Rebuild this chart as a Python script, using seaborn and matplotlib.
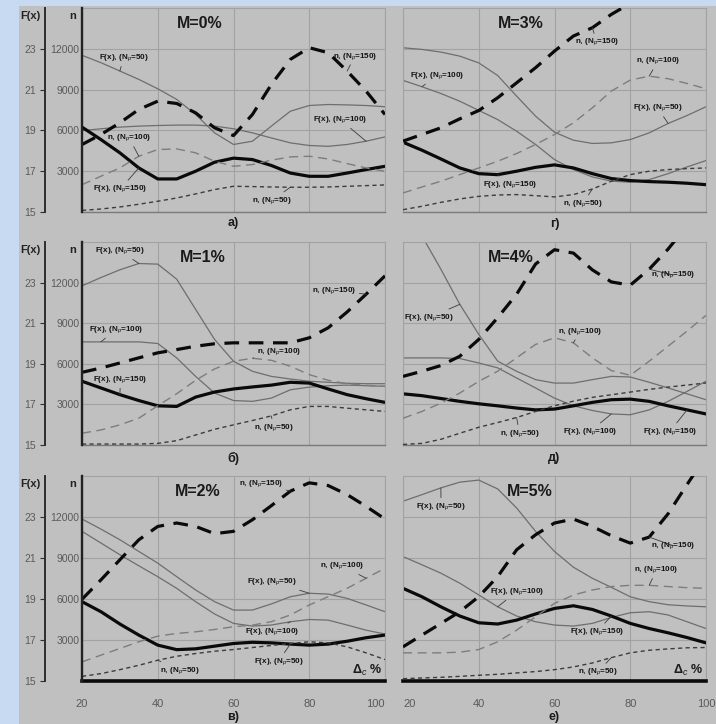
import matplotlib
matplotlib.use("Agg")
import matplotlib.pyplot as plt
from matplotlib.patches import Rectangle
import seaborn as sns

sns.set_theme(style="white")
plt.rcParams["font.family"] = ["Liberation Sans", "DejaVu Sans"]
plt.rcParams["mathtext.fontset"] = "custom"
plt.rcParams["mathtext.rm"] = "Liberation Sans"
plt.rcParams["mathtext.it"] = "Liberation Sans:italic"
plt.rcParams["mathtext.bf"] = "Liberation Sans:bold"

# x axis: Delta_c, %
X = [20, 25, 30, 35, 40, 45, 50, 55, 60, 65, 70, 75, 80, 85, 90, 95, 100]

# M = 0 %
F50_M0 = [22.68, 22.32, 21.91, 21.50, 21.04, 20.52, 19.78, 18.88, 18.31, 18.47, 19.21, 19.94, 20.22, 20.27, 20.25, 20.22, 20.16]
F100_M0 = [18.99, 19.08, 19.16, 19.21, 19.24, 19.26, 19.26, 19.21, 19.08, 18.88, 18.63, 18.39, 18.26, 18.22, 18.31, 18.47, 18.68]
F150_M0 = [19.16, 18.55, 17.90, 17.16, 16.62, 16.62, 17.00, 17.44, 17.64, 17.57, 17.28, 16.91, 16.75, 16.75, 16.91, 17.08, 17.24]
N50_M0 = [120, 220, 370, 570, 790, 1030, 1330, 1650, 1890, 1870, 1840, 1820, 1820, 1840, 1890, 1940, 1990]
N100_M0 = [2010, 2630, 3240, 4100, 4590, 4640, 4350, 3730, 3360, 3490, 3810, 4050, 4100, 3900, 3560, 3240, 3000]
N150_M0 = [4960, 5700, 6560, 7540, 8150, 7980, 7290, 6190, 5620, 7170, 9380, 11220, 12080, 11710, 10360, 8890, 7170]

# M = 1 %
F50_M1 = [22.84, 23.25, 23.63, 23.94, 23.91, 23.17, 21.68, 20.20, 19.13, 18.63, 18.38, 18.25, 18.14, 18.09, 18.04, 18.02, 18.02]
F100_M1 = [20.08, 20.08, 20.08, 20.08, 20.00, 19.29, 18.38, 17.56, 17.19, 17.15, 17.31, 17.72, 17.85, 17.92, 17.95, 17.92, 17.89]
F150_M1 = [18.14, 17.81, 17.48, 17.19, 16.93, 16.90, 17.36, 17.61, 17.76, 17.86, 17.95, 18.09, 18.05, 17.76, 17.48, 17.28, 17.10]
N50_M1 = [70, 70, 70, 70, 120, 320, 740, 1160, 1490, 1810, 2150, 2600, 2850, 2850, 2720, 2600, 2480]
N100_M1 = [870, 1110, 1490, 1980, 2900, 3790, 4780, 5620, 6190, 6410, 6260, 5820, 5200, 4780, 4530, 4410, 4330]
N150_M1 = [5370, 5690, 6060, 6440, 6810, 7050, 7300, 7480, 7550, 7550, 7550, 7550, 7920, 8660, 9830, 11140, 12500]

# M = 2 %
F50_M2 = [22.90, 22.41, 21.89, 21.32, 20.75, 20.09, 19.44, 18.87, 18.46, 18.46, 18.76, 19.11, 19.28, 19.24, 19.03, 18.71, 18.38]
F100_M2 = [22.30, 21.73, 21.16, 20.62, 20.09, 19.52, 18.87, 18.27, 17.81, 17.68, 17.73, 17.89, 18.00, 17.97, 17.73, 17.48, 17.29]
F150_M2 = [18.87, 18.38, 17.78, 17.24, 16.75, 16.53, 16.57, 16.70, 16.83, 16.89, 16.86, 16.80, 16.75, 16.80, 16.94, 17.11, 17.24]
N50_M2 = [340, 540, 830, 1150, 1520, 1810, 2010, 2180, 2300, 2450, 2600, 2740, 2870, 2790, 2500, 2060, 1570]
N100_M2 = [1400, 1890, 2380, 2870, 3280, 3480, 3600, 3770, 3970, 4090, 4340, 4830, 5560, 6170, 6780, 7520, 8250]
N150_M2 = [5980, 7400, 8870, 10330, 11310, 11560, 11310, 10780, 10950, 11800, 12830, 13890, 14500, 14300, 13640, 12780, 11850]

# M = 3 %
F50_M3 = [23.05, 22.97, 22.84, 22.64, 22.31, 21.69, 20.68, 19.70, 18.91, 18.52, 18.36, 18.39, 18.55, 18.88, 19.34, 19.73, 20.16]
F100_M3 = [21.45, 21.14, 20.81, 20.43, 19.98, 19.53, 18.96, 18.31, 17.57, 17.08, 16.72, 16.51, 16.46, 16.59, 16.88, 17.21, 17.52]
F150_M3 = [18.42, 18.03, 17.60, 17.16, 16.88, 16.83, 17.00, 17.19, 17.31, 17.16, 16.88, 16.64, 16.54, 16.49, 16.46, 16.41, 16.34]
N50_M3 = [170, 420, 710, 960, 1150, 1250, 1280, 1200, 1110, 1280, 1690, 2260, 2750, 3000, 3120, 3190, 3240]
N100_M3 = [1400, 1840, 2260, 2750, 3240, 3730, 4300, 4960, 5700, 6560, 7660, 8890, 9700, 9990, 9800, 9450, 9060]
N150_M3 = [5210, 5700, 6190, 6850, 7460, 8400, 9500, 10610, 11830, 12940, 13550, 14530, 15340, 16100, 16900, 17700, 18500]

# M = 4 %
F50_M4 = [27.50, 25.30, 23.66, 21.93, 20.45, 19.13, 18.63, 18.22, 18.05, 18.05, 18.22, 18.38, 18.35, 18.09, 17.81, 17.52, 17.23]
F100_M4 = [19.29, 19.29, 19.29, 19.26, 19.04, 18.80, 18.30, 17.81, 17.31, 16.93, 16.70, 16.53, 16.49, 16.73, 17.15, 17.64, 18.14]
F150_M4 = [17.52, 17.43, 17.29, 17.15, 17.03, 16.93, 16.82, 16.73, 16.77, 16.93, 17.10, 17.23, 17.26, 17.15, 16.93, 16.73, 16.53]
N50_M4 = [40, 120, 420, 870, 1310, 1660, 2030, 2480, 2900, 3240, 3520, 3710, 3910, 4110, 4280, 4430, 4580]
N100_M4 = [1980, 2480, 3090, 3840, 4700, 5450, 6440, 7430, 7920, 7550, 6440, 5500, 5150, 6190, 7300, 8420, 9580]
N150_M4 = [5070, 5450, 5870, 6560, 7800, 9410, 11140, 13370, 14430, 14180, 12940, 12050, 11810, 12990, 14480, 16210, 17940]

# M = 5 %
F50_M5 = [23.77, 24.09, 24.42, 24.70, 24.80, 24.37, 23.44, 22.30, 21.32, 20.55, 20.01, 19.57, 19.11, 18.87, 18.72, 18.66, 18.62]
F100_M5 = [21.07, 20.67, 20.26, 19.77, 19.20, 18.62, 18.17, 17.89, 17.73, 17.68, 17.81, 18.10, 18.33, 18.38, 18.22, 17.89, 17.56]
F150_M5 = [19.52, 19.11, 18.62, 18.17, 17.84, 17.78, 17.97, 18.27, 18.54, 18.67, 18.49, 18.17, 17.81, 17.56, 17.35, 17.12, 16.86]
N50_M5 = [170, 220, 270, 340, 420, 490, 590, 690, 830, 1030, 1320, 1710, 2060, 2250, 2350, 2430, 2450]
N100_M5 = [2060, 2060, 2060, 2110, 2300, 2870, 3720, 4700, 5680, 6290, 6660, 6910, 7000, 7000, 6910, 6830, 6780]
N150_M5 = [2500, 3360, 4210, 5070, 6170, 7640, 9600, 10700, 11560, 11850, 11310, 10630, 10090, 10530, 12240, 14380, 16450]

F_TICKS = [15, 17, 19, 21, 23]
N_TICKS = [3000, 6000, 9000, 12000]
X_TICKS = [20, 40, 60, 80, 100]

T = {
    "F50": "F(x), (N$_p$=50)", "F100": "F(x), (N$_p$=100)", "F150": "F(x), (N$_p$=150)",
    "N50": "n, (N$_p$=50)", "N100": "n, (N$_p$=100)", "N150": "n, (N$_p$=150)",
}

# curve labels: (text, series, x of leader end, text x, text y in F units)
LAB_M0 = [(T["F50"], "F50", 30, 24.4, 22.56), (T["N100"], "N100", 35, 26.6, 18.63),
          (T["F150"], "F150", 35, 23.0, 16.13), (T["N50"], "N50", 75, 64.9, 15.56),
          (T["F100"], "F100", 95, 81.0, 19.53), (T["N150"], "N150", 90, 86.2, 22.64)]
LAB_M3 = [(T["N150"], "N150", 70, 65.3, 23.33), (T["F100"], "F100", 25, 21.8, 21.69),
          (T["N100"], "N100", 85, 81.5, 22.40), (T["F50"], "F50", 90, 80.7, 20.10),
          (T["F150"], "F150", 45, 41.0, 16.34), (T["N50"], "N50", 70, 62.2, 15.41)]
LAB_M1 = [(T["F50"], "F50", 35, 23.5, 24.57), (T["F100"], "F100", 25, 21.8, 20.69),
          (T["F150"], "F150", 30, 23.0, 18.22), (T["N100"], "N100", 65, 66.2, 19.62),
          (T["N50"], "N50", 70, 65.3, 15.87), (T["N150"], "N150", 95, 80.7, 22.62)]
LAB_M4 = [(T["F50"], "F50", 35, 20.3, 21.27), (T["N100"], "N100", 65, 60.9, 20.61),
          (T["N150"], "N150", 85, 85.5, 23.37), (T["N50"], "N50", 50, 45.5, 15.58),
          (T["F100"], "F100", 75, 62.2, 15.66), (T["F150"], "F150", 95, 83.3, 15.66)]
LAB_M2 = [(T["N150"], "N150", 75, 61.4, 24.63), (T["F50"], "F50", 80, 63.6, 19.85),
          (T["F100"], "F100", 75, 63.1, 17.40), (T["F50"], "F150", 75, 65.3, 15.96),
          (T["N50"], "N50", 40, 40.7, 15.52), (T["N100"], "N100", 95, 82.8, 20.62)]
LAB_M5 = [(T["F50"], "F50", 30, 23.5, 23.52), (T["F100"], "F100", 45, 42.9, 19.36),
          (T["N150"], "N150", 85, 85.5, 21.60), (T["N100"], "N100", 85, 81.1, 20.42),
          (T["F150"], "F150", 75, 64.0, 17.40), (T["N50"], "N50", 75, 66.2, 15.44)]

panels = [
    # (title, caption, row, col, data, labels, title x)
    ("M=0%", "а)", 0, 0, (F50_M0, F100_M0, F150_M0, N50_M0, N100_M0, N150_M0), LAB_M0, 51),
    ("M=3%", "г)", 0, 1, (F50_M3, F100_M3, F150_M3, N50_M3, N100_M3, N150_M3), LAB_M3, 51),
    ("M=1%", "б)", 1, 0, (F50_M1, F100_M1, F150_M1, N50_M1, N100_M1, N150_M1), LAB_M1, 52),
    ("M=4%", "д)", 1, 1, (F50_M4, F100_M4, F150_M4, N50_M4, N100_M4, N150_M4), LAB_M4, 48.5),
    ("M=2%", "в)", 2, 0, (F50_M2, F100_M2, F150_M2, N50_M2, N100_M2, N150_M2), LAB_M2, 50.5),
    ("M=5%", "е)", 2, 1, (F50_M5, F100_M5, F150_M5, N50_M5, N100_M5, N150_M5), LAB_M5, 53.5),
]

W, H = 716, 724
fig = plt.figure(figsize=(W / 100, H / 100), dpi=100)
fig.patch.set_facecolor("#c7daf1")
fig.add_artist(Rectangle((19 / W, 0), 1, (H - 6) / H, transform=fig.transFigure,
                         facecolor="#c0c0c0", edgecolor="none", zorder=-10))

col_left = [82, 403]
row_box = [(8, 212), (242, 445), (476, 681)]
cap_y = [[-0.054, -0.059], [-0.064, -0.064], [-0.176, -0.178]]
grid_c = "#a2a2a2"
tick_c = "#5a5a5a"

for title, cap, r, c, data, labels, tx in panels:
    top, bot = row_box[r]
    ax = fig.add_axes([col_left[c] / W, 1 - bot / H, 303 / W, (bot - top) / H])
    ax.set_facecolor("none")
    axn = ax.twinx()
    f50, f100, f150, n50, n100, n150 = data
    series = {"F50": f50, "F100": f100, "F150": f150, "N50": n50, "N100": n100, "N150": n150}

    sns.lineplot(x=X, y=f50, ax=ax, color="#6e6e6e", lw=0.9, errorbar=None)
    sns.lineplot(x=X, y=f100, ax=ax, color="#6e6e6e", lw=0.9, errorbar=None)
    sns.lineplot(x=X, y=f150, ax=ax, color="#0a0a0a", lw=2.3, errorbar=None)
    sns.lineplot(x=X, y=n50, ax=axn, color="#3c3c3c", lw=1.0, errorbar=None, linestyle=(0, (3, 2.4)))
    sns.lineplot(x=X, y=n100, ax=axn, color="#7d7d7d", lw=1.0, errorbar=None, linestyle=(0, (6.5, 4)))
    sns.lineplot(x=X, y=n150, ax=axn, color="#0a0a0a", lw=2.3, errorbar=None, linestyle=(0, (4.6, 3.0)))

    ax.set_xlim(20, 100)
    ax.set_ylim(15, 25)
    axn.set_ylim(0, 15000)
    ax.set_xlabel("")
    ax.set_ylabel("")
    axn.set_ylabel("")

    ax.set_xticks(X_TICKS)
    ax.set_yticks(F_TICKS)
    ax.grid(True, color=grid_c, lw=0.8)
    ax.set_axisbelow(True)

    for s in ["top", "right"]:
        ax.spines[s].set_color(grid_c)
        ax.spines[s].set_linewidth(0.8)
    if r == 2:
        ax.spines["bottom"].set_color("#0a0a0a")
        ax.spines["bottom"].set_linewidth(2.6)
    else:
        ax.spines["bottom"].set_color("#7a7a7a")
        ax.spines["bottom"].set_linewidth(1.0)
    for s in ["top", "right", "bottom"]:
        axn.spines[s].set_visible(False)

    if c == 0:
        ax.spines["left"].set_position(("outward", 26.6))
        ax.spines["left"].set_color("#2e2e2e")
        ax.spines["left"].set_linewidth(1.4)
        ax.tick_params(axis="y", left=True, length=3.5, width=0.8, color="#2e2e2e",
                       labelsize=7.5, labelcolor=tick_c, pad=3)
        axn.spines["left"].set_visible(True)
        axn.spines["left"].set_color("#222222")
        axn.spines["left"].set_linewidth(1.7)
        axn.yaxis.tick_left()
        axn.set_yticks(N_TICKS)
        axn.set_yticklabels([str(v) for v in N_TICKS])
        axn.tick_params(axis="y", left=True, right=False, length=0, labelleft=True,
                        labelright=False, labelsize=7.5, labelcolor=tick_c, pad=2)
        ax.text(-0.172, 0.962, "F(x)", transform=ax.transAxes, ha="center", va="center",
                fontsize=8, fontweight="bold", color="#222222")
        ax.text(-0.03, 0.962, "n", transform=ax.transAxes, ha="center", va="center",
                fontsize=8, fontweight="bold", color="#222222")
    else:
        ax.spines["left"].set_color(grid_c)
        ax.spines["left"].set_linewidth(0.8)
        ax.tick_params(axis="y", left=False, labelleft=False)
        axn.spines["left"].set_visible(False)
        axn.tick_params(axis="y", left=False, right=False, labelleft=False, labelright=False)

    if r == 2:
        ax.tick_params(axis="x", bottom=False, labelbottom=True, labelsize=8,
                       labelcolor=tick_c, pad=7)
        xl = ax.get_xticklabels()
        if c == 0:
            xl[-1].set_horizontalalignment("right")
        else:
            xl[0].set_horizontalalignment("left")
        ax.text(99.3, 15.5, "Δ$_c$ %", ha="right", va="center", fontsize=9,
                fontweight="bold", color="#1a1a1a")
    else:
        ax.tick_params(axis="x", bottom=False, labelbottom=False)

    ax.text(tx, 24.25, title, ha="center", va="center", fontsize=11.5,
            fontweight="bold", color="#1a1a1a")
    ax.text(0.5, cap_y[r][c], cap, transform=ax.transAxes, ha="center", va="center",
            fontsize=9, fontweight="bold", color="#1a1a1a")

    for text, key, xat, lx, ly in labels:
        i = X.index(xat)
        src = ax.transData if key.startswith("F") else axn.transData
        axn.annotate(text, xy=(xat, series[key][i]), xycoords=src,
                     xytext=(lx, ly), textcoords=ax.transData,
                     ha="left", va="center", fontsize=5.9, fontweight="bold",
                     color="#141414",
                     arrowprops=dict(arrowstyle="-", color="#3a3a3a", lw=0.6,
                                     shrinkA=0, shrinkB=0))

fig.savefig("out.png", dpi=100, facecolor=fig.get_facecolor())
